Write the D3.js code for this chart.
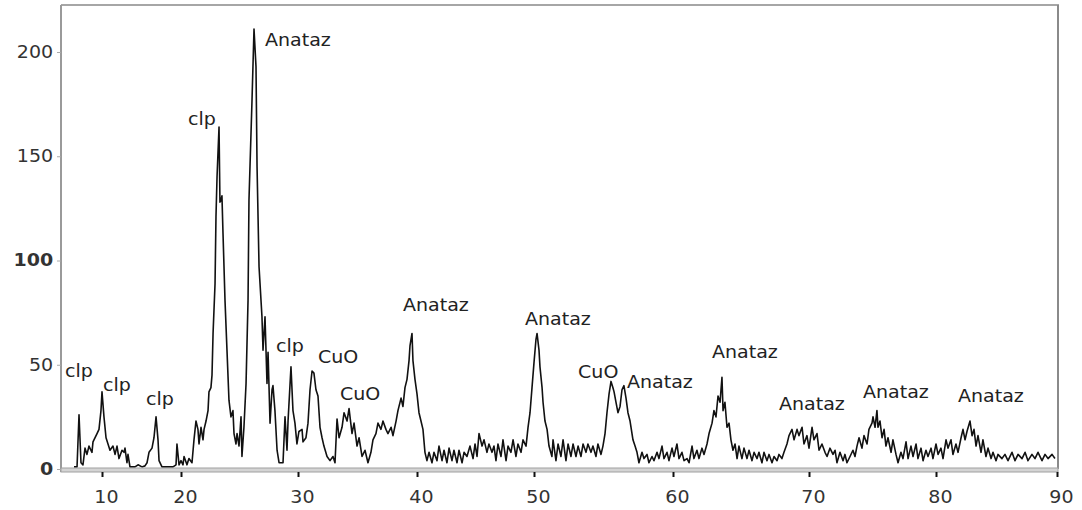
<!DOCTYPE html>
<html><head><meta charset="utf-8">
<script src="https://cdn.jsdelivr.net/npm/d3@7"></script>
<style>
body{margin:0;background:#fff}
svg{display:block}
text{font-family:"DejaVu Sans",Verdana,sans-serif}
</style>
</head><body>
<svg id="chart" width="1082" height="510"></svg>
<script>
// ---------- data ----------
const xTickValues = [10, 20, 30, 40, 50, 60, 70, 80, 90];
const yTickValues = [0, 50, 100, 150, 200];

const twoTheta = [
 6.46,6.84,7.09,7.34,7.59,7.85,8.10,8.35,8.73,8.86,9.37,9.62,9.87,10.00,10.25,10.51,10.76,11.01,11.39,11.65,
 11.90,12.15,12.53,12.78,12.91,13.16,13.29,13.54,14.18,14.56,15.06,15.44,15.70,15.95,16.33,16.58,16.84,17.09,17.22,17.59,
 18.23,18.99,19.37,19.49,19.75,20.00,20.17,20.26,20.51,20.68,20.94,21.11,21.28,21.45,21.54,21.71,21.88,21.97,22.14,22.31,
 22.39,22.56,22.65,22.74,22.91,22.99,23.08,23.25,23.33,23.42,23.50,23.59,23.76,23.93,24.10,24.27,24.44,24.53,24.70,24.79,
 24.96,25.13,25.21,25.38,25.56,25.73,25.81,26.07,26.24,26.41,26.50,26.67,26.92,27.01,27.18,27.35,27.44,27.61,27.78,27.86,
 28.03,28.21,28.38,28.72,28.89,29.06,29.15,29.40,29.57,29.74,29.91,30.08,30.34,30.42,30.67,30.84,31.01,31.18,31.34,31.51,
 31.68,31.85,32.02,32.18,32.44,32.69,32.94,33.11,33.28,33.45,33.70,33.87,34.12,34.29,34.54,34.71,34.96,35.13,35.38,35.63,
 35.88,36.13,36.30,36.55,36.72,36.97,37.14,37.39,37.56,37.82,37.98,38.24,38.40,38.66,38.82,38.99,39.16,39.33,39.41,39.58,
 39.66,39.83,40.00,40.17,40.34,40.51,40.68,40.85,41.03,41.28,41.45,41.71,41.88,42.14,42.31,42.56,42.74,42.99,43.16,43.42,
 43.59,43.85,44.02,44.27,44.53,44.79,44.96,45.13,45.30,45.56,45.73,45.98,46.15,46.41,46.58,46.75,46.92,47.18,47.35,47.61,
 47.78,48.03,48.21,48.46,48.63,48.89,49.06,49.32,49.49,49.66,49.83,50.00,50.14,50.22,50.36,50.43,50.58,50.65,50.79,50.94,
 51.08,51.29,51.37,51.58,51.73,51.94,52.09,52.30,52.45,52.66,52.81,53.02,53.17,53.38,53.53,53.74,53.88,54.10,54.24,54.46,
 54.60,54.82,54.96,55.11,55.25,55.40,55.54,55.68,55.76,55.90,56.04,56.19,56.33,56.47,56.62,56.76,56.91,57.12,57.27,57.41,
 57.55,57.77,57.91,58.13,58.27,58.49,58.63,58.85,58.99,59.21,59.35,59.57,59.71,59.93,60.07,60.29,60.44,60.66,60.81,61.03,
 61.18,61.40,61.54,61.76,61.91,62.13,62.28,62.50,62.65,62.87,63.01,63.16,63.31,63.46,63.60,63.68,63.82,63.97,64.12,64.26,
 64.41,64.56,64.71,64.85,65.07,65.22,65.44,65.59,65.81,65.96,66.18,66.32,66.54,66.69,66.91,67.06,67.28,67.43,67.65,67.79,
 68.01,68.16,68.38,68.53,68.75,68.90,69.12,69.26,69.49,69.63,69.85,70.00,70.24,70.39,70.63,70.79,71.02,71.26,71.42,71.65,
 71.89,72.05,72.20,72.44,72.68,72.83,72.99,73.23,73.46,73.62,73.78,73.94,74.17,74.33,74.57,74.72,74.96,75.04,75.20,75.35,
 75.43,75.59,75.75,75.91,76.06,76.22,76.46,76.61,76.85,77.01,77.24,77.40,77.64,77.80,78.03,78.19,78.43,78.58,78.82,78.98,
 79.21,79.37,79.61,79.76,80.00,80.17,80.41,80.58,80.83,80.99,81.24,81.40,81.65,81.82,82.07,82.23,82.40,82.56,82.81,82.98,
 83.14,83.31,83.47,83.72,83.88,84.13,84.30,84.55,84.71,84.96,85.12,85.45,85.70,85.95,86.28,86.53,86.78,87.11,87.36,87.60,
 87.93,88.18,88.43,88.76,89.01,89.26,89.59,89.83
];
const intensity = [
 1,1,26,3,2,10,7,11,8,13,17,19,28,37,25,15,12,9,11,7,
 11,5,9,8,10,3,7,1,1,2,1,1.5,3,8,10,15,25,14,4,1,
 1,1,2,12,2,4,2,6,2,5,3,14,23,19,12,20,14,19,23,28,
 37,39,45,65,89,121,140,164,128,129,131,113,81,57,33,25,28,17,12,17,
 11,25,6,20,41,81,129,177,211,193,145,97,73,57,73,41,56,22,38,40,
 28,9,3,3,25,9,23,49,28,22,12,18,19,13,15,22,38,47,46,38,
 35,20,15,11,6,4,6,3,24,15,20,27,23,29,17,22,11,15,6,9,
 3,8,14,17,22,19,23,19,17,20,16,23,28,34,30,39,43,52,59,65,
 52,43,36,27,23,19,8,4,8,3,8,4,11,4,9,3,10,4,9,3,
 9,3,8,6,11,5,12,6,17,11,14,8,12,8,11,4,12,6,14,4,
 11,8,14,6,12,8,14,11,20,27,39,51,62,65,57,49,39,32,23,19,
 11,6,14,4,12,6,14,4,12,6,12,6,11,6,12,8,12,8,11,6,
 12,7,11,17,27,36,42,39,37,32,27,30,38,40,34,27,23,14,11,8,
 3,8,5,7,3,6,4,8,5,11,5,8,4,10,6,12,5,8,4,5,
 3,11,5,9,5,10,7,12,17,22,28,25,35,32,44,28,32,20,22,14,
 9,12,5,11,5,10,5,9,4,8,5,8,3,8,4,7,3,6,4,7,
 5,8,12,16,19,14,19,16,20,12,16,10,20,14,17,9,12,8,6,10,
 7,9,3,8,4,7,3,6,9,6,11,15,10,16,12,19,22,25,20,28,
 20,23,15,19,11,15,8,14,7,3,8,5,13,5,11,6,12,5,10,4,
 9,6,10,5,12,7,10,5,14,10,14,7,12,8,15,19,14,18,23,16,
 19,11,16,8,14,6,10,5,8,4,7,5,7,4,8,4,7,5,8,4,
 7,5,8,4,7,5,7,5
];

const peakLabels     = ["clp","clp","clp","clp","Anataz","clp","CuO","CuO","Anataz","Anataz","CuO","Anataz","Anataz","Anataz","Anataz","Anataz"];
const labelTheta     = [5.32,10.13,15.57,20.60,27.18,28.12,31.68,33.53,38.82,49.23,53.17,56.69,62.87,67.79,74.25,81.82];
const labelIntensity = [44.1,37.4,30.7,165.0,202.9,56.1,50.8,33.1,75.8,69.1,43.6,38.8,53.2,28.3,34.1,32.1];

// ---------- layout ----------
const plotLeft = 61, plotRight = 1058, plotTop = 5;
const xTickPx = [102, 181, 298, 417, 534, 673, 809, 936, 1057];
const stretch = 1.12;
const fontSize = 17;

const svg = d3.select("#chart");
svg.append("rect").attr("width", 1082).attr("height", 510).attr("fill", "#fff");

const x = d3.scaleLinear().domain(xTickValues).range(xTickPx);
const y = d3.scaleLinear().domain([0, 200]).range([469, 52]);
const y0 = y(0);

// frame
svg.append("line").attr("x1", plotLeft).attr("x2", plotRight + 1).attr("y1", plotTop).attr("y2", plotTop)
  .attr("stroke", "#a6a6a6").attr("stroke-width", 2);
svg.append("line").attr("x1", plotRight).attr("x2", plotRight).attr("y1", plotTop).attr("y2", y0)
  .attr("stroke", "#8a8a8a").attr("stroke-width", 2);
svg.append("line").attr("x1", plotLeft).attr("x2", plotLeft).attr("y1", plotTop).attr("y2", y0 + 3)
  .attr("stroke", "#9a9a9a").attr("stroke-width", 2);

// trace
const pts = d3.zip(twoTheta, intensity);
svg.append("path").datum(pts)
  .attr("fill", "none").attr("stroke", "#111").attr("stroke-width", 1.6)
  .attr("stroke-linejoin", "round")
  .attr("d", d3.line().x(d => x(d[0])).y(d => y(d[1])));

// baseline band
svg.append("rect").attr("x", plotLeft).attr("y", y0 - 1).attr("width", plotRight - plotLeft).attr("height", 4)
  .attr("fill", "#d4d4d4").attr("stroke", "#a0a0a0").attr("stroke-width", 1);

// y axis
const gy = svg.append("g").attr("transform", `translate(${plotLeft},0)`)
  .call(d3.axisLeft(y).tickValues(yTickValues).tickSize(4).tickPadding(3).tickFormat(d3.format("d")));
gy.select(".domain").remove();
gy.selectAll(".tick line").attr("stroke", "#aaa");
gy.selectAll(".tick text").attr("font-size", fontSize).attr("fill", "#333")
  .attr("font-family", "DejaVu Sans, Verdana, sans-serif")
  .attr("font-weight", d => (d === 0 || d === 100) ? "bold" : "normal")
  .attr("transform", `scale(${stretch},1)`);

// x axis
const gx = svg.append("g").attr("transform", `translate(0,${y0 + 3})`)
  .call(d3.axisBottom(x).tickValues(xTickValues).tickSize(5).tickPadding(14).tickFormat(d3.format("d")));
gx.select(".domain").remove();
gx.selectAll(".tick line").attr("stroke", "#111").attr("stroke-width", 2);
gx.selectAll(".tick text").attr("font-size", fontSize).attr("fill", "#333")
  .attr("font-family", "DejaVu Sans, Verdana, sans-serif")
  .attr("dx", 3.5)
  .attr("transform", `scale(${stretch},1)`);

// peak labels
svg.append("g").selectAll("text")
  .data(d3.zip(peakLabels, labelTheta, labelIntensity))
  .join("text")
  .attr("transform", d => `translate(${x(d[1])},${y(d[2])}) scale(${stretch},1)`)
  .attr("font-size", fontSize).attr("fill", "#222")
  .text(d => d[0]);
</script>
</body></html>
